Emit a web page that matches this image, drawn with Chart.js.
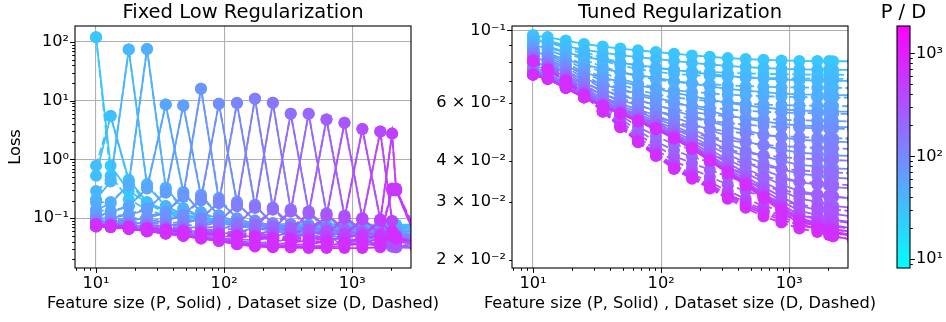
<!DOCTYPE html>
<html>
<head>
<meta charset="utf-8">
<script src="https://cdn.jsdelivr.net/npm/chart.js@4.4.0/dist/chart.umd.min.js"></script>
<style>
  body { margin: 0; background: #fff; }
  #wrap { position: relative; width: 946px; height: 322px; }
  .layer { position: absolute; left: 0; top: 0; width: 946px; height: 322px; }
</style>
</head>
<body>
<div id="wrap">
  <div class="layer"><canvas id="lowRegChart"></canvas></div>
  <div class="layer"><canvas id="tunedChart"></canvas></div>
  <div class="layer"><canvas id="colorbar"></canvas></div>
</div>
<script>
/*** Sizes used for both the feature count P and the dataset size D ***/
const sizes = [10, 13, 18, 25, 35, 48, 66, 91, 126, 174, 240, 331, 457, 630, 870, 1200, 1657, 2048, 2200, 3162];

/*** Loss with a small fixed ridge penalty (row = P, column = D) ***/
const lowRegLoss = [
    [120, 0.53, 0.21, 0.14, 0.11, 0.097, 0.088, 0.083, 0.079, 0.075, 0.074, 0.074, 0.074, 0.074, 0.073, 0.073, 0.073, 0.073, 0.073, 0.072],
    [0.78, 5.5, 0.42, 0.176, 0.124, 0.10, 0.089, 0.082, 0.079, 0.075, 0.073, 0.072, 0.072, 0.072, 0.072, 0.071, 0.071, 0.071, 0.071, 0.071],
    [0.29, 0.45, 74, 0.38, 0.161, 0.114, 0.092, 0.083, 0.076, 0.073, 0.070, 0.067, 0.067, 0.067, 0.066, 0.066, 0.066, 0.066, 0.066, 0.066],
    [0.185, 0.189, 0.36, 76, 0.32, 0.139, 0.10, 0.082, 0.074, 0.069, 0.066, 0.064, 0.062, 0.061, 0.061, 0.061, 0.060, 0.060, 0.060, 0.060],
    [0.136, 0.133, 0.159, 0.33, 8.6, 0.28, 0.123, 0.090, 0.074, 0.067, 0.063, 0.060, 0.058, 0.056, 0.056, 0.056, 0.055, 0.055, 0.055, 0.055],
    [0.115, 0.107, 0.116, 0.147, 0.27, 8.3, 0.25, 0.111, 0.081, 0.067, 0.061, 0.057, 0.055, 0.053, 0.051, 0.051, 0.051, 0.050, 0.050, 0.050],
    [0.101, 0.096, 0.096, 0.108, 0.127, 0.23, 16, 0.22, 0.098, 0.072, 0.060, 0.055, 0.051, 0.049, 0.048, 0.046, 0.046, 0.046, 0.045, 0.045],
    [0.094, 0.088, 0.087, 0.090, 0.096, 0.112, 0.20, 8.9, 0.19, 0.086, 0.064, 0.054, 0.049, 0.045, 0.044, 0.043, 0.042, 0.042, 0.041, 0.041],
    [0.087, 0.084, 0.082, 0.082, 0.081, 0.086, 0.100, 0.18, 9.1, 0.17, 0.078, 0.058, 0.048, 0.044, 0.041, 0.039, 0.038, 0.037, 0.036, 0.036],
    [0.080, 0.081, 0.079, 0.077, 0.075, 0.075, 0.078, 0.091, 0.16, 10.8, 0.15, 0.068, 0.050, 0.042, 0.038, 0.036, 0.035, 0.034, 0.034, 0.033],
    [0.080, 0.077, 0.076, 0.074, 0.071, 0.069, 0.068, 0.072, 0.083, 0.15, 9.2, 0.14, 0.064, 0.047, 0.039, 0.036, 0.034, 0.033, 0.033, 0.032],
    [0.079, 0.077, 0.073, 0.072, 0.069, 0.066, 0.064, 0.063, 0.067, 0.078, 0.14, 6.0, 0.13, 0.060, 0.045, 0.038, 0.035, 0.033, 0.032, 0.032],
    [0.079, 0.076, 0.073, 0.069, 0.067, 0.064, 0.061, 0.059, 0.059, 0.062, 0.073, 0.13, 6.0, 0.12, 0.056, 0.042, 0.036, 0.033, 0.032, 0.031],
    [0.079, 0.076, 0.072, 0.069, 0.065, 0.063, 0.060, 0.057, 0.056, 0.055, 0.058, 0.068, 0.12, 4.8, 0.11, 0.053, 0.040, 0.034, 0.032, 0.031],
    [0.079, 0.076, 0.072, 0.068, 0.065, 0.061, 0.058, 0.056, 0.053, 0.052, 0.052, 0.055, 0.064, 0.11, 4.2, 0.10, 0.050, 0.038, 0.034, 0.031],
    [0.078, 0.075, 0.072, 0.068, 0.064, 0.061, 0.057, 0.054, 0.052, 0.050, 0.049, 0.049, 0.052, 0.060, 0.10, 3.3, 0.095, 0.048, 0.037, 0.031],
    [0.078, 0.075, 0.071, 0.068, 0.064, 0.060, 0.057, 0.053, 0.051, 0.049, 0.047, 0.046, 0.046, 0.049, 0.055, 0.095, 3.0, 0.090, 0.046, 0.032],
    [0.078, 0.075, 0.071, 0.067, 0.063, 0.060, 0.056, 0.053, 0.050, 0.048, 0.046, 0.045, 0.044, 0.044, 0.046, 0.053, 0.090, 2.75, 0.30, 0.060],
    [0.078, 0.075, 0.071, 0.067, 0.063, 0.059, 0.056, 0.052, 0.050, 0.047, 0.045, 0.043, 0.041, 0.040, 0.039, 0.044, 0.051, 0.32, 0.30, 0.045],
    [0.077, 0.074, 0.070, 0.066, 0.062, 0.059, 0.055, 0.052, 0.049, 0.047, 0.044, 0.042, 0.040, 0.039, 0.037, 0.036, 0.036, 0.050, 0.045, 0.040]
];

/*** Loss with a tuned ridge penalty (row = P, column = D) ***/
const tunedLoss = [
    [0.0966, 0.0934, 0.0898, 0.0860, 0.0824, 0.0799, 0.0780, 0.0767, 0.0757, 0.0751, 0.0747, 0.0742, 0.0739, 0.0737, 0.0735, 0.0734, 0.0733, 0.0733, 0.0733, 0.0732],
    [0.0954, 0.0921, 0.0885, 0.0844, 0.0808, 0.0781, 0.0762, 0.0748, 0.0737, 0.0731, 0.0726, 0.0722, 0.0719, 0.0716, 0.0715, 0.0713, 0.0712, 0.0712, 0.0712, 0.0711],
    [0.0931, 0.0896, 0.0857, 0.0814, 0.0775, 0.0746, 0.0724, 0.0709, 0.0697, 0.0691, 0.0685, 0.0680, 0.0676, 0.0673, 0.0671, 0.0670, 0.0669, 0.0668, 0.0668, 0.0667],
    [0.0909, 0.0873, 0.0832, 0.0786, 0.0743, 0.0711, 0.0688, 0.0670, 0.0657, 0.0650, 0.0643, 0.0637, 0.0633, 0.0630, 0.0628, 0.0626, 0.0625, 0.0625, 0.0624, 0.0624],
    [0.0893, 0.0855, 0.0812, 0.0763, 0.0718, 0.0684, 0.0658, 0.0639, 0.0625, 0.0616, 0.0609, 0.0603, 0.0598, 0.0594, 0.0592, 0.0590, 0.0589, 0.0588, 0.0588, 0.0587],
    [0.0880, 0.0841, 0.0796, 0.0746, 0.0698, 0.0662, 0.0634, 0.0614, 0.0598, 0.0589, 0.0581, 0.0574, 0.0569, 0.0565, 0.0562, 0.0560, 0.0559, 0.0558, 0.0557, 0.0556],
    [0.0869, 0.0829, 0.0783, 0.0731, 0.0680, 0.0642, 0.0613, 0.0591, 0.0574, 0.0564, 0.0555, 0.0547, 0.0542, 0.0537, 0.0534, 0.0532, 0.0531, 0.0530, 0.0529, 0.0528],
    [0.0859, 0.0818, 0.0771, 0.0717, 0.0664, 0.0624, 0.0593, 0.0569, 0.0551, 0.0539, 0.0530, 0.0522, 0.0516, 0.0511, 0.0507, 0.0505, 0.0503, 0.0502, 0.0502, 0.0500],
    [0.0849, 0.0807, 0.0758, 0.0701, 0.0646, 0.0604, 0.0570, 0.0544, 0.0524, 0.0512, 0.0501, 0.0492, 0.0485, 0.0479, 0.0476, 0.0473, 0.0471, 0.0470, 0.0469, 0.0468],
    [0.0839, 0.0796, 0.0746, 0.0688, 0.0630, 0.0585, 0.0549, 0.0520, 0.0499, 0.0485, 0.0474, 0.0463, 0.0455, 0.0448, 0.0444, 0.0441, 0.0438, 0.0437, 0.0437, 0.0435],
    [0.0831, 0.0787, 0.0735, 0.0675, 0.0615, 0.0567, 0.0528, 0.0497, 0.0474, 0.0458, 0.0445, 0.0433, 0.0424, 0.0416, 0.0411, 0.0407, 0.0405, 0.0403, 0.0403, 0.0400],
    [0.0823, 0.0779, 0.0726, 0.0663, 0.0601, 0.0551, 0.0509, 0.0476, 0.0450, 0.0433, 0.0418, 0.0404, 0.0394, 0.0385, 0.0379, 0.0374, 0.0372, 0.0370, 0.0369, 0.0367],
    [0.0818, 0.0773, 0.0719, 0.0655, 0.0591, 0.0538, 0.0495, 0.0459, 0.0431, 0.0412, 0.0396, 0.0380, 0.0368, 0.0358, 0.0352, 0.0346, 0.0343, 0.0341, 0.0340, 0.0337],
    [0.0813, 0.0768, 0.0713, 0.0648, 0.0582, 0.0528, 0.0482, 0.0445, 0.0414, 0.0394, 0.0376, 0.0358, 0.0345, 0.0333, 0.0326, 0.0319, 0.0315, 0.0312, 0.0312, 0.0308],
    [0.0810, 0.0763, 0.0708, 0.0642, 0.0575, 0.0519, 0.0472, 0.0433, 0.0400, 0.0378, 0.0358, 0.0339, 0.0324, 0.0311, 0.0302, 0.0294, 0.0290, 0.0286, 0.0285, 0.0281],
    [0.0807, 0.0761, 0.0705, 0.0638, 0.0570, 0.0513, 0.0464, 0.0424, 0.0389, 0.0366, 0.0345, 0.0324, 0.0307, 0.0292, 0.0282, 0.0274, 0.0268, 0.0265, 0.0263, 0.0258],
    [0.0806, 0.0759, 0.0703, 0.0637, 0.0568, 0.0511, 0.0461, 0.0420, 0.0385, 0.0361, 0.0339, 0.0317, 0.0300, 0.0284, 0.0274, 0.0265, 0.0259, 0.0255, 0.0253, 0.0248],
    [0.0806, 0.0759, 0.0703, 0.0636, 0.0567, 0.0509, 0.0459, 0.0418, 0.0383, 0.0358, 0.0336, 0.0314, 0.0296, 0.0280, 0.0269, 0.0260, 0.0254, 0.0249, 0.0248, 0.0242],
    [0.0805, 0.0758, 0.0702, 0.0635, 0.0566, 0.0508, 0.0458, 0.0416, 0.0380, 0.0356, 0.0333, 0.0311, 0.0292, 0.0276, 0.0265, 0.0255, 0.0248, 0.0244, 0.0242, 0.0236],
    [0.0805, 0.0758, 0.0701, 0.0634, 0.0565, 0.0507, 0.0456, 0.0414, 0.0378, 0.0353, 0.0330, 0.0307, 0.0288, 0.0271, 0.0260, 0.0249, 0.0243, 0.0238, 0.0236, 0.0230]
];

/*** Axis ticks ***/
const xTicks = [10, 100, 1000];
const lowRegYTicks = [0.1, 1, 10, 100];
const tunedYTicks = [0.02, 0.03, 0.04, 0.06, 0.1];
const tunedYGrid = [0.1];
const colorbarTicks = [10, 100, 1000];

/*** Defaults ***/
Chart.defaults.font.family = 'DejaVu Sans';
Chart.defaults.color = '#000';
Chart.defaults.animation = false;

const GRID = '#b0b0b0';
const TICK_FONT = 16.2;
const SUP = {'-': '\u207b', '0': '\u2070', '1': '\u00b9', '2': '\u00b2', '3': '\u00b3', '4': '\u2074',
             '5': '\u2075', '6': '\u2076', '7': '\u2077', '8': '\u2078', '9': '\u2079'};

// 10^n or m x 10^n with unicode superscripts
function powLabel(v) {
    const e = Math.floor(Math.log10(v) + 1e-9);
    const m = Math.round(v / Math.pow(10, e));
    const expo = String(e).split('').map(c => SUP[c]).join('');
    return m === 1 ? '10' + expo : m + ' \u00d7 10' + expo;
}

// 'cool' colormap, restricted to its middle part
function coolColor(k) {
    const t = 0.22 + 0.6 * k / (sizes.length - 1);
    return 'rgb(' + Math.round(255 * t) + ',' + Math.round(255 * (1 - t)) + ',255)';
}

function lineSet(points, color, dashed, order) {
    return {
        data: points,
        showLine: true,
        borderColor: color,
        backgroundColor: color,
        pointBackgroundColor: color,
        borderWidth: 1.8,
        borderDash: dashed ? [7.7, 3.3] : [],
        pointRadius: 6,
        pointBorderWidth: 0,
        pointHoverRadius: 6,
        clip: 0,
        order: order
    };
}

// solid: fixed D, sweep P ; dashed: fixed P, sweep D
function buildDatasets(loss) {
    const sets = [];
    sizes.forEach((size, k) => {
        const color = coolColor(k);
        sets.push(lineSet(sizes.map((p, i) => ({x: p, y: loss[i][k]})), color, false, 100 - 2 * k));
        sets.push(lineSet(sizes.map((d, j) => ({x: d, y: loss[k][j]})), color, true, 99 - 2 * k));
    });
    return sets;
}

function logScale(min, max, tickValues, gridValues, extra) {
    return Object.assign({
        type: 'logarithmic',
        min: min,
        max: max,
        bounds: 'data',
        afterBuildTicks: function (s) { s.ticks = tickValues.map(v => ({value: v})); },
        ticks: {
            autoSkip: false, maxRotation: 0, padding: 6,
            font: {size: TICK_FONT},
            callback: function (value) { return powLabel(value); }
        },
        grid: {
            drawTicks: false,
            lineWidth: 1.1,
            color: function (c) { return c.tick && gridValues.includes(c.tick.value) ? GRID : 'rgba(0,0,0,0)'; }
        },
        border: {display: false}
    }, extra);
}

/*** Titles, frame, outward major/minor ticks, colour bar fill ***/
const panelDecor = {
    id: 'panelDecor',
    beforeDatasetsDraw(chart, args, opts) {
        if (!opts.gradient) return;
        const {ctx, chartArea: a} = chart;
        const g = ctx.createLinearGradient(0, a.bottom, 0, a.top);
        g.addColorStop(0, 'rgb(0,255,255)');
        g.addColorStop(1, 'rgb(255,0,255)');
        ctx.save();
        ctx.fillStyle = g;
        ctx.fillRect(a.left, a.top, a.width, a.height);
        ctx.restore();
    },
    afterDraw(chart, args, opts) {
        const {ctx, chartArea: a} = chart;
        ctx.save();
        ctx.strokeStyle = '#000';
        ctx.lineWidth = 1;
        Object.values(chart.scales).forEach(s => {
            if (!s.options.display || s.type !== 'logarithmic') return;
            for (let n = Math.floor(Math.log10(s.min)); n <= Math.ceil(Math.log10(s.max)); n++) {
                for (let m = 1; m <= 9; m++) {
                    const v = m * Math.pow(10, n);
                    if (v < s.min || v > s.max) continue;
                    const len = m === 1 ? 4.9 : 2.8;
                    const p = Math.round(s.getPixelForValue(v)) + 0.5;
                    ctx.beginPath();
                    if (s.axis === 'x') {
                        ctx.moveTo(p, a.bottom); ctx.lineTo(p, a.bottom + len);
                    } else if (s.position === 'right') {
                        ctx.moveTo(a.right, p); ctx.lineTo(a.right + len, p);
                    } else {
                        ctx.moveTo(a.left, p); ctx.lineTo(a.left - len, p);
                    }
                    ctx.stroke();
                }
            }
        });
        ctx.lineWidth = 1.1;
        ctx.strokeRect(a.left, a.top, a.width, a.height);

        ctx.fillStyle = '#000';
        ctx.textAlign = 'center';
        ctx.textBaseline = 'middle';
        const cx = (a.left + a.right) / 2;
        if (opts.title) {
            ctx.font = '19.5px "DejaVu Sans"';
            ctx.fillText(opts.title, cx, 13);
        }
        if (opts.xTitle) {
            ctx.font = '16.2px "DejaVu Sans"';
            ctx.fillText(opts.xTitle, cx, 304);
        }
        if (opts.yTitle) {
            ctx.font = '16.2px "DejaVu Sans"';
            ctx.translate(16, (a.top + a.bottom) / 2);
            ctx.rotate(-Math.PI / 2);
            ctx.fillText(opts.yTitle, 0, 0);
        }
        ctx.restore();
    }
};

const xLabel = 'Feature size (P, Solid) , Dataset size (D, Dashed)';

function drawPanel(id, loss, yMin, yMax, yTicks, yGrid, padLeft, axisWidth, right, texts) {
    return new Chart(document.getElementById(id), {
        type: 'scatter',
        data: {datasets: buildDatasets(loss)},
        options: {
            responsive: true,
            maintainAspectRatio: false,
            events: [],
            layout: {padding: {left: padLeft, right: 946 - right, top: 26, bottom: 0}},
            scales: {
                x: logScale(6.85, 2877, xTicks, xTicks, {afterFit: function (s) { s.height = 54; }}),
                y: logScale(yMin, yMax, yTicks, yGrid, {afterFit: function (s) { s.width = axisWidth; }})
            },
            plugins: {
                legend: {display: false},
                tooltip: {enabled: false},
                panelDecor: texts
            }
        },
        plugins: [panelDecor]
    });
}

/*** Charts ***/
drawPanel('lowRegChart', lowRegLoss, 0.0142, 186.6, lowRegYTicks, lowRegYTicks, 0, 75, 411,
    {title: 'Fixed Low Regularization', xTitle: xLabel, yTitle: 'Loss'});

drawPanel('tunedChart', tunedLoss, 0.01888, 0.1031, tunedYTicks, tunedYGrid, 412, 100, 848,
    {title: 'Tuned Regularization', xTitle: xLabel});

new Chart(document.getElementById('colorbar'), {
    type: 'scatter',
    data: {datasets: []},
    options: {
        responsive: true,
        maintainAspectRatio: false,
        events: [],
        layout: {padding: {left: 897, right: 0, top: 26, bottom: 54}},
        scales: {
            x: {type: 'linear', display: false},
            y: logScale(8.23, 1841, colorbarTicks, [], {position: 'right', afterFit: function (s) { s.width = 36; }})
        },
        plugins: {
            legend: {display: false},
            tooltip: {enabled: false},
            panelDecor: {title: 'P / D', gradient: true}
        }
    },
    plugins: [panelDecor]
});
</script>
</body>
</html>
